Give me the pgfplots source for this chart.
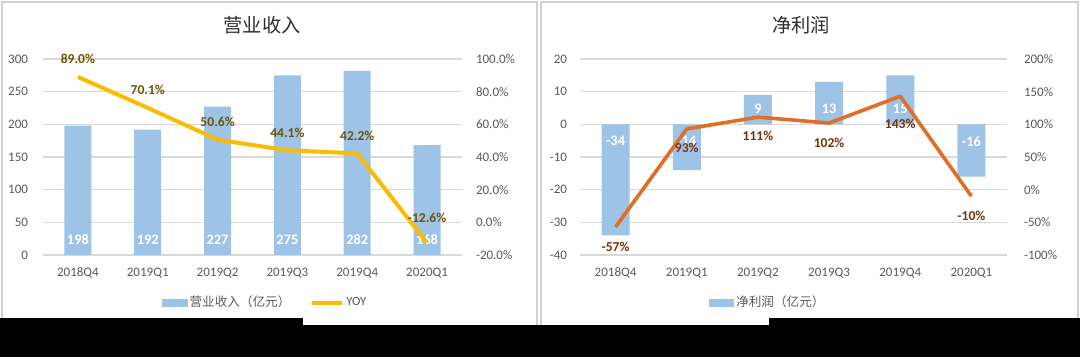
\documentclass[border=0pt]{standalone}
\usepackage{fontspec}
\usepackage{pgfplots}
\pgfplotsset{compat=1.18}
\usepackage{pgfplotstable}
\setmainfont{Carlito}
\newfontfamily\cjk{Noto Sans CJK SC}
\definecolor{barblue}{RGB}{157,195,230}
\definecolor{goldL}{RGB}{250,188,0}
\definecolor{orangeL}{RGB}{224,110,38}
\definecolor{gridgray}{RGB}{217,217,217}
\definecolor{tickgray}{RGB}{89,89,89}
\definecolor{labgold}{RGB}{110,84,0}
\definecolor{labbrown}{RGB}{120,50,10}
\definecolor{framegray}{RGB}{208,208,208}
\definecolor{titlegray}{RGB}{45,45,45}
\pgfkeys{/pgf/number format/assume math mode=true}

\pgfplotstableread{
x v ly
0 198 23
1 192 23
2 227 23
3 275 23
4 282 23
5 168 23
}\revdata
\pgfplotstableread{
x y dy
0 89.0 9
1 70.1 9
2 50.6 9
3 44.1 8.5
4 42.2 9
5 -12.6 12.5
}\yoydata
\pgfplotstableread{
x v ly
0 -34 -5.2
1 -14 -4.9
2 9 4.7
3 13 4.7
4 15 4.8
5 -16 -5.2
}\npdata
\pgfplotstableread{
x y dy
0 -57 -9.75
1 93 -9.5
2 111 -9.5
3 102 -10
4 143 -14
5 -10 -10
}\npyoy

\pgfplotsset{
  panel/.style={
    scale only axis, height=98pt, xmin=-0.5, xmax=5.5,
    axis line style={draw=none}, major tick length=0pt,
    tick label style={font=\fontsize{6.5}{7.5}\selectfont, text=tickgray},
    clip=false,
    xtick={0,...,5},
    xticklabels={2018Q4,2019Q1,2019Q2,2019Q3,2019Q4,2020Q1},
    xticklabel style={yshift=-3pt},
  },
  barlab/.style={draw=none, nodes near coords, point meta=explicit,
    every node near coord/.append style={anchor=center,
      font=\bfseries\fontsize{7.2}{8}\selectfont, text=white}},
}

\begin{document}
\begin{tikzpicture}
\useasboundingbox (0,0) rectangle (540pt,178.5pt);
% panel frames
\draw[framegray, line width=0.6pt] (1pt,14pt) -- (1pt,177.5pt) -- (268.5pt,177.5pt) -- (268.5pt,14pt);
\draw[framegray, line width=0.6pt] (270.5pt,14pt) -- (270.5pt,177.5pt) -- (539pt,177.5pt) -- (539pt,14pt);

% ---------- left panel ----------
\begin{axis}[panel, width=209.5pt, at={(21.5pt,51pt)}, anchor=south west,
  ymin=0, ymax=300, ytick={0,50,...,300},
  ymajorgrids, grid style={draw=gridgray, line width=0.6pt},
  yticklabel style={xshift=-4pt}]
\addplot[ybar, bar width=13.5pt, fill=barblue, draw=none] table[x=x,y=v] {\revdata};
\addplot[barlab] table[x=x,y=ly,meta=v] {\revdata};
\end{axis}
\begin{axis}[panel, width=209.5pt, at={(21.5pt,51pt)}, anchor=south west,
  hide x axis, axis y line*=right,
  ymin=-20, ymax=100, ytick={-20,0,...,100},
  yticklabel={\pgfmathprintnumber[fixed,fixed zerofill,precision=1]{\tick}\%},
  yticklabel style={xshift=3.5pt},
  legend style={at={(axis description cs:0.53,-0.245)}, anchor=center,
    draw=none, fill=none, font=\fontsize{6.3}{7.5}\selectfont\color{tickgray},
    legend columns=2, /tikz/every even column/.append style={column sep=9pt},
    nodes={inner sep=1pt}},
  legend cell align=left]
\addlegendimage{legend image code/.code={\fill[barblue] (0pt,-1.9pt) rectangle (12.5pt,1.9pt);}}
\addlegendentry{\cjk 营业收入（亿元）}
\addplot[goldL, line width=2pt, line join=round,
  legend image code/.code={\draw[goldL,line width=2pt] (0pt,0pt) -- (15pt,0pt);},
  nodes near coords={\pgfmathprintnumber[fixed,fixed zerofill,precision=1]{\pgfplotspointmeta}\%},
  point meta=y,
  visualization depends on={\thisrow{dy}\as\dy},
  every node near coord/.append style={anchor=center, yshift=\dy pt,
    font=\bfseries\fontsize{6.8}{8}\selectfont, text=labgold}]
  table[x=x,y=y] {\yoydata};
\addlegendentry{YOY}
\end{axis}
\node[font=\cjk\fontsize{9.6}{11}\selectfont, text=titlegray] at (131pt,166pt) {营业收入};

% ---------- right panel ----------
\begin{axis}[panel, width=213.5pt, at={(290pt,51pt)}, anchor=south west,
  ymin=-40, ymax=20, ytick={-40,-30,...,20},
  ymajorgrids, grid style={draw=gridgray, line width=0.6pt},
  yticklabel style={xshift=-3pt},
  legend style={at={(axis description cs:0.44,-0.245)}, anchor=center,
    draw=none, fill=none, font=\fontsize{6.3}{7.5}\selectfont\color{tickgray},
    nodes={inner sep=1pt}},
  legend cell align=left]
\addplot[ybar, bar width=14pt, fill=barblue, draw=none,
  legend image code/.code={\fill[barblue] (0pt,-1.9pt) rectangle (12.5pt,1.9pt);}]
  table[x=x,y=v] {\npdata};
\addlegendentry{\cjk 净利润（亿元）}
\addplot[barlab, forget plot] table[x=x,y=ly,meta=v] {\npdata};
\end{axis}
\begin{axis}[panel, width=213.5pt, at={(290pt,51pt)}, anchor=south west,
  hide x axis, axis y line*=right,
  ymin=-100, ymax=200, ytick={-100,-50,...,200},
  yticklabel={\pgfmathprintnumber[fixed,precision=0]{\tick}\%},
  yticklabel style={xshift=5pt}]
\addplot[orangeL, line width=1.8pt, line join=round,
  nodes near coords={\pgfmathprintnumber[fixed,precision=0]{\pgfplotspointmeta}\%},
  point meta=y,
  visualization depends on={\thisrow{dy}\as\dy},
  every node near coord/.append style={anchor=center, yshift=\dy pt,
    font=\bfseries\fontsize{6.8}{8}\selectfont, text=labbrown}]
  table[x=x,y=y] {\npyoy};
\end{axis}
\node[font=\cjk\fontsize{9.6}{11}\selectfont, text=titlegray] at (400.5pt,166pt) {净利润};

% ---------- black band ----------
\fill[black] (0,0) rectangle (540pt,16pt);
\fill[black] (0,15pt) rectangle (151.5pt,19.5pt);
\fill[black] (384.5pt,15pt) rectangle (540pt,19.5pt);
\end{tikzpicture}
\end{document}
